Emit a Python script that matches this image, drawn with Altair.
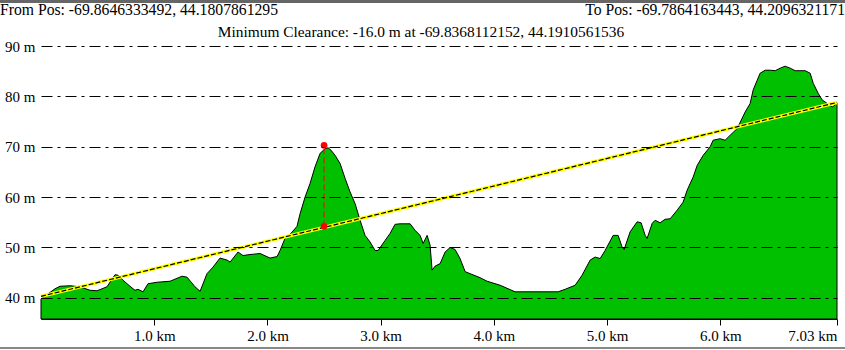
import altair as alt
import pandas as pd

# Terrain profile (distance in km, elevation in m)
dist_km = [0.000, 0.062, 0.124, 0.168, 0.256, 0.345, 0.433, 0.495, 0.583, 0.654,
           0.680, 0.724, 0.786, 0.830, 0.857, 0.901, 0.945, 1.025, 1.140, 1.246,
           1.290, 1.360, 1.405, 1.466, 1.519, 1.581, 1.643, 1.670, 1.740, 1.784,
           1.846, 1.935, 2.023, 2.085, 2.111, 2.155, 2.200, 2.261, 2.288, 2.332,
           2.376, 2.420, 2.465, 2.509, 2.535, 2.562, 2.597, 2.641, 2.686, 2.730,
           2.774, 2.818, 2.862, 2.906, 2.951, 2.977, 3.039, 3.083, 3.127, 3.171,
           3.260, 3.304, 3.348, 3.375, 3.410, 3.436, 3.454, 3.481, 3.525, 3.569,
           3.613, 3.657, 3.701, 3.746, 3.790, 3.878, 3.940, 4.055, 4.187, 4.567,
           4.629, 4.717, 4.779, 4.850, 4.894, 4.938, 4.982, 5.053, 5.097, 5.132,
           5.150, 5.203, 5.265, 5.300, 5.336, 5.353, 5.398, 5.424, 5.468, 5.512,
           5.557, 5.618, 5.671, 5.707, 5.760, 5.795, 5.848, 5.910, 5.936, 5.998,
           6.042, 6.087, 6.148, 6.219, 6.263, 6.290, 6.325, 6.351, 6.396, 6.440,
           6.484, 6.528, 6.572, 6.617, 6.661, 6.749, 6.793, 6.820, 6.864, 6.899,
           6.943, 6.988, 7.014, 7.030]
elev_m = [39.8, 40.8, 41.8, 42.3, 42.4, 42.2, 41.5, 41.4, 42.2, 44.6,
          44.5, 43.5, 42.3, 41.5, 41.7, 41.2, 42.8, 43.1, 43.3, 44.3,
          44.1, 42.2, 41.3, 44.8, 46.1, 47.9, 47.5, 47.1, 49.1, 48.4,
          48.6, 48.8, 47.9, 48.2, 49.4, 51.8, 52.6, 54.2, 56.7, 60.0,
          62.7, 66.0, 68.7, 69.6, 69.8, 69.3, 68.3, 66.7, 63.7, 61.0,
          58.7, 55.4, 52.4, 51.1, 49.4, 49.4, 51.4, 52.8, 54.6, 54.7,
          54.7, 53.4, 52.4, 50.8, 52.4, 50.5, 45.5, 46.3, 46.8, 49.1,
          50.0, 49.6, 47.8, 45.2, 44.8, 44.0, 43.3, 42.5, 41.2, 41.2,
          41.7, 42.5, 44.5, 47.5, 48.1, 47.8, 49.4, 52.4, 52.4, 50.1,
          49.6, 53.1, 55.1, 54.9, 52.4, 51.8, 54.8, 55.4, 54.9, 55.6,
          55.7, 57.4, 59.0, 61.4, 64.0, 66.3, 68.3, 70.0, 71.3, 71.6,
          71.3, 72.3, 73.6, 76.9, 78.6, 81.3, 83.2, 84.6, 85.2, 85.2,
          85.1, 85.6, 86.0, 85.6, 85.1, 85.1, 84.6, 82.6, 80.6, 79.3,
          78.6, 77.9, 78.3, 78.7]

# Line of sight
los_km = [0.0, 7.03]
los_m = [40.3, 78.8]

# Minimum clearance markers
clear_km = [2.5, 2.5]
clear_m = [54.2, 70.3]

x_ticks = [1, 2, 3, 4, 5, 6, 7.03]
y_ticks = [40, 50, 60, 70, 80, 90]
X_MAX = 7.03
Y_MIN, Y_MAX = 35.8, 90.8

from_text = "From Pos: -69.8646333492, 44.1807861295"
to_text = "To Pos: -69.7864163443, 44.2096321171"
min_text = "Minimum Clearance: -16.0 m at -69.8368112152, 44.1910561536"

FONT = "Liberation Serif, Times New Roman, Times, serif"

terrain = pd.DataFrame({"km": dist_km, "m": elev_m})
los = pd.DataFrame({"km": los_km, "m": los_m})
clr = pd.DataFrame({"km": clear_km, "m": clear_m})

xs = alt.Scale(domain=[0, X_MAX], nice=False, zero=False)
ys = alt.Scale(domain=[Y_MIN, Y_MAX], nice=False, zero=False)

x_axis = alt.Axis(values=x_ticks, title=None, grid=False, domain=True,
                  domainColor="black", domainWidth=1, ticks=True, tickColor="black",
                  tickSize=6, labelPadding=3, labelFont=FONT, labelFontSize=15,
                  labelColor="black", labelFlush=True,
                  labelExpr="datum.value == 7.03 ? '7.03 km' : format(datum.value, '.1f') + ' km'")
y_axis = alt.Axis(values=y_ticks, title=None, grid=True, gridColor="black",
                  gridDash=[11, 5, 3, 5], gridWidth=1, gridOpacity=1,
                  domain=False, ticks=False, labelPadding=6, labelFont=FONT,
                  labelFontSize=15, labelColor="black", zindex=1,
                  labelExpr="datum.value + ' m'")

area = alt.Chart(terrain).mark_area(color="#00C000", stroke="black", strokeWidth=1,
                                    interpolate="linear").encode(
    x=alt.X("km:Q", scale=xs, axis=x_axis),
    y=alt.Y("m:Q", scale=ys, axis=y_axis),
    y2=alt.Y2(datum=Y_MIN),
)

los_yellow = alt.Chart(los).mark_line(color="#FFFF00", strokeWidth=3.5).encode(
    x=alt.X("km:Q", scale=xs), y=alt.Y("m:Q", scale=ys))
los_black = alt.Chart(los).mark_line(color="black", strokeWidth=1.2,
                                     strokeDash=[5, 2]).encode(
    x=alt.X("km:Q", scale=xs), y=alt.Y("m:Q", scale=ys))

clr_line = alt.Chart(clr).mark_line(color="red", strokeWidth=1,
                                    strokeDash=[6, 3]).encode(
    x=alt.X("km:Q", scale=xs), y=alt.Y("m:Q", scale=ys))
clr_pts = alt.Chart(clr).mark_circle(color="red", size=45, opacity=1).encode(
    x=alt.X("km:Q", scale=xs), y=alt.Y("m:Q", scale=ys))

txt_df = pd.DataFrame({"a": [0]})
t_from = alt.Chart(txt_df).mark_text(text=from_text, font=FONT, fontSize=15.7,
                                     align="left", baseline="middle",
                                     color="black").encode(
    x=alt.value(-41), y=alt.value(-32))
t_to = alt.Chart(txt_df).mark_text(text=to_text, font=FONT, fontSize=15.7,
                                   align="right", baseline="middle",
                                   color="black").encode(
    x=alt.value(804), y=alt.value(-32))
t_min = alt.Chart(txt_df).mark_text(text=min_text, font=FONT, fontSize=15.4,
                                    align="center", baseline="middle",
                                    color="black").encode(
    x=alt.value(380), y=alt.value(-10))

top_border = alt.Chart(txt_df).mark_rule(color="#666666", strokeWidth=3).encode(
    x=alt.value(-41), x2=alt.value(804), y=alt.value(-40.5))
bot_border = alt.Chart(txt_df).mark_rule(color="#888888", strokeWidth=2).encode(
    x=alt.value(-41), x2=alt.value(804), y=alt.value(306))

chart = alt.layer(area, los_yellow, los_black, clr_line, clr_pts,
                  t_from, t_to, t_min, top_border, bot_border).properties(
    width=796, height=277,
    autosize=alt.AutoSizeParams(type="none"),
    padding={"left": 41, "top": 42, "right": 8, "bottom": 31},
    background="white",
).configure_view(strokeWidth=0)

chart.save("out.html", embed_options={"renderer": "svg", "actions": False})
